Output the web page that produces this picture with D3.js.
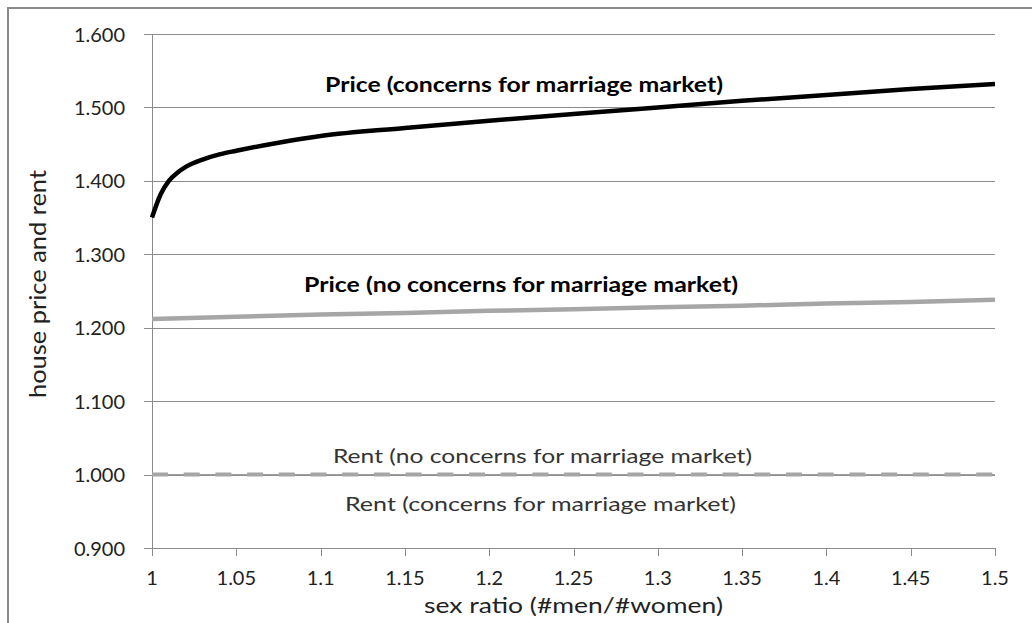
<!DOCTYPE html>
<html>
<head>
<meta charset="utf-8">
<script src="https://cdn.jsdelivr.net/npm/d3@7"></script>
<style>
  html, body { margin: 0; padding: 0; background: #fff; }
  svg { display: block; }
  text { font-family: Lato, "Open Sans", "DejaVu Sans", sans-serif; }
</style>
</head>
<body>
<svg id="chart" width="1032" height="623"></svg>
<script>
// ---- data ----
const xTicks = [1, 1.05, 1.1, 1.15, 1.2, 1.25, 1.3, 1.35, 1.4, 1.45, 1.5];
const xTickLabels = ["1", "1.05", "1.1", "1.15", "1.2", "1.25", "1.3", "1.35", "1.4", "1.45", "1.5"];
const yTicks = [0.9, 1.0, 1.1, 1.2, 1.3, 1.4, 1.5, 1.6];
const yTickLabels = ["0.900", "1.000", "1.100", "1.200", "1.300", "1.400", "1.500", "1.600"];

const priceConcernX = [1.000, 1.005, 1.010, 1.015, 1.020, 1.030, 1.040, 1.050, 1.075, 1.100, 1.150, 1.200, 1.250, 1.300, 1.350, 1.400, 1.450, 1.500];
const priceConcernY = [1.350, 1.381, 1.400, 1.411, 1.419, 1.429, 1.436, 1.441, 1.452, 1.461, 1.472, 1.482, 1.491, 1.500, 1.509, 1.517, 1.525, 1.532];

const priceNoConcernX = [1.00, 1.05, 1.10, 1.15, 1.20, 1.25, 1.30, 1.35, 1.40, 1.45, 1.50];
const priceNoConcernY = [1.212, 1.215, 1.218, 1.220, 1.223, 1.225, 1.228, 1.230, 1.233, 1.235, 1.238];

const rentX = [1.0, 1.5];
const rentNoConcernY = [1.000, 1.000];
const rentConcernY = [1.000, 1.000];

const labels = [
  "Price (concerns for marriage market)",
  "Price (no concerns for marriage market)",
  "Rent (no concerns for marriage market)",
  "Rent (concerns for marriage market)"
];
const xTitle = "sex ratio (#men/#women)";
const yTitle = "house price and rent";

// ---- drawing ----
const svg = d3.select("#chart");
const x = d3.scaleLinear().domain([1, 1.5]).range([152, 995]);
const y = d3.scaleLinear().domain([0.9, 1.6]).range([548, 34]);

// outer frame
svg.append("rect").attr("x", 8).attr("y", 8).attr("width", 1060).attr("height", 660)
  .attr("fill", "none").attr("stroke", "#8a8a8a").attr("stroke-width", 2);

const gridColor = "#8c8c8c";

// gridlines with left tick stubs
svg.append("g").selectAll("line").data(yTicks.slice(1)).join("line")
  .attr("x1", 144).attr("x2", 995)
  .attr("y1", d => Math.round(y(d)) + 0.5).attr("y2", d => Math.round(y(d)) + 0.5)
  .attr("stroke", gridColor).attr("stroke-width", 1);

// x axis line + ticks
svg.append("line").attr("x1", 144).attr("x2", 995)
  .attr("y1", Math.round(y(0.9)) + 0.5).attr("y2", Math.round(y(0.9)) + 0.5)
  .attr("stroke", gridColor).attr("stroke-width", 1);
svg.append("g").selectAll("line").data(xTicks).join("line")
  .attr("x1", d => Math.round(x(d)) + 0.5).attr("x2", d => Math.round(x(d)) + 0.5)
  .attr("y1", y(0.9)).attr("y2", y(0.9) + 8)
  .attr("stroke", gridColor).attr("stroke-width", 1);

// y axis line
svg.append("line").attr("x1", Math.round(x(1)) + 0.5).attr("x2", Math.round(x(1)) + 0.5)
  .attr("y1", y(1.6)).attr("y2", y(0.9))
  .attr("stroke", gridColor).attr("stroke-width", 1);

// tick labels
svg.append("g").selectAll("text").data(yTicks).join("text")
  .attr("x", 125).attr("y", d => y(d) + 7.5)
  .attr("text-anchor", "end").attr("font-size", 20).attr("fill", "#222")
  .text((d, i) => yTickLabels[i]);
svg.append("g").selectAll("text").data(xTicks).join("text")
  .attr("x", d => x(d)).attr("y", 585)
  .attr("text-anchor", "middle").attr("font-size", 20).attr("fill", "#222")
  .text((d, i) => xTickLabels[i]);

// axis titles
svg.append("text").attr("x", 573.5).attr("y", 613).attr("text-anchor", "middle")
  .attr("font-size", 22).attr("fill", "#222")
  .attr("textLength", 299).attr("lengthAdjust", "spacingAndGlyphs")
  .text(xTitle);
svg.append("text").attr("transform", "translate(46,284) rotate(-90)")
  .attr("text-anchor", "middle").attr("font-size", 23).attr("fill", "#222")
  .attr("textLength", 228).attr("lengthAdjust", "spacingAndGlyphs")
  .text(yTitle);

// series
const line = d3.line().x(d => x(d[0])).y(d => y(d[1]));
const zip = (a, b) => a.map((v, i) => [v, b[i]]);

svg.append("path").datum(zip(rentX, rentConcernY))
  .attr("d", line).attr("fill", "none").attr("stroke", "#9a9a9a").attr("stroke-width", 1);
svg.append("path").datum(zip(rentX, rentNoConcernY))
  .attr("d", line).attr("fill", "none").attr("stroke", "#a6a6a6").attr("stroke-width", 4)
  .attr("stroke-dasharray", "16,15.7");

svg.append("path").datum(zip(priceNoConcernX, priceNoConcernY))
  .attr("d", line.curve(d3.curveLinear)).attr("fill", "none")
  .attr("stroke", "#a6a6a6").attr("stroke-width", 4.5);

svg.append("path").datum(zip(priceConcernX, priceConcernY))
  .attr("d", d3.line().x(d => x(d[0])).y(d => y(d[1])).curve(d3.curveMonotoneX))
  .attr("fill", "none").attr("stroke", "#000").attr("stroke-width", 4.5)
  .attr("stroke-linejoin", "round");

// series labels
const lab = [
  {t: labels[0], x: 325, y: 92, w: 398, bold: true, c: "#000"},
  {t: labels[1], x: 304, y: 292, w: 434, bold: true, c: "#000"},
  {t: labels[2], x: 333, y: 463, w: 419, bold: false, c: "#333"},
  {t: labels[3], x: 345, y: 511, w: 391, bold: false, c: "#333"}
];
svg.append("g").selectAll("text").data(lab).join("text")
  .attr("x", d => d.x).attr("y", d => d.y)
  .attr("font-size", 20).attr("font-weight", d => d.bold ? "bold" : "normal")
  .attr("fill", d => d.c)
  .attr("textLength", d => d.w).attr("lengthAdjust", "spacingAndGlyphs")
  .text(d => d.t);
</script>
</body>
</html>
